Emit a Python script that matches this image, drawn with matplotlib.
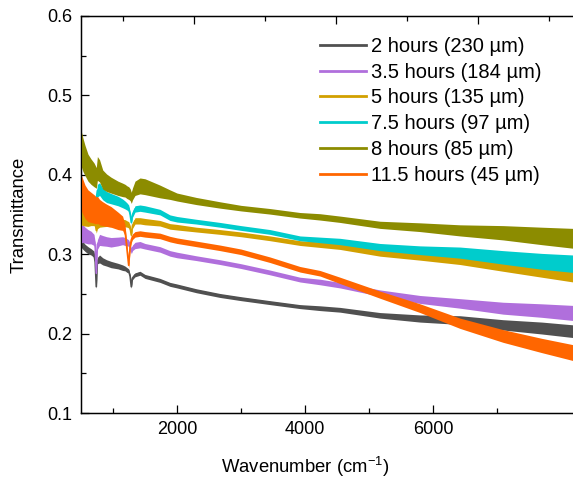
import matplotlib
matplotlib.use("Agg")
import matplotlib.pyplot as plt
from matplotlib.ticker import FixedLocator, MultipleLocator, FormatStrFormatter

plt.rcParams["font.family"] = ["Liberation Sans", "DejaVu Sans"]
plt.rcParams["mathtext.fontset"] = "custom"
plt.rcParams["mathtext.rm"] = "Liberation Sans"
plt.rcParams["mathtext.it"] = "Liberation Sans:italic"

# wavenumber grid shared by all spectra (cm^-1)
wavenumber = [500, 531, 563, 609, 656, 703, 722, 739, 756, 790, 840, 900, 969, 1078,
              1150, 1188, 1220, 1245, 1268, 1286, 1305, 1344, 1422, 1500, 1734, 1890,
              2000, 2300, 2672, 3000, 3453, 3922, 4234, 4547, 5172, 5797, 6422, 7094,
              7700, 8190]

labels = ["2 hours (230 µm)", "3.5 hours (184 µm)", "5 hours (135 µm)",
          "7.5 hours (97 µm)", "8 hours (85 µm)", "11.5 hours (45 µm)"]
colors = ["#505050", "#B06FDC", "#D2A000", "#00CCCC", "#8C8C00", "#FF6600"]

t_2h = [0.314, 0.311, 0.308, 0.305, 0.303, 0.300, 0.290, 0.259, 0.292, 0.294, 0.291,
        0.289, 0.287, 0.285, 0.283, 0.282, 0.280, 0.279, 0.272, 0.259, 0.270, 0.274,
        0.276, 0.272, 0.267, 0.262, 0.260, 0.254, 0.248, 0.244, 0.239, 0.234, 0.232,
        0.230, 0.223, 0.219, 0.217, 0.211, 0.207, 0.203]
t_3h5 = [0.325, 0.326, 0.324, 0.322, 0.321, 0.318, 0.310, 0.276, 0.312, 0.318, 0.317,
         0.316, 0.315, 0.316, 0.317, 0.316, 0.315, 0.314, 0.310, 0.303, 0.308, 0.311,
         0.312, 0.310, 0.306, 0.301, 0.299, 0.295, 0.290, 0.285, 0.277, 0.268, 0.265,
         0.261, 0.251, 0.243, 0.238, 0.232, 0.229, 0.226]
t_5h = [0.352, 0.350, 0.348, 0.345, 0.344, 0.343, 0.340, 0.330, 0.338, 0.341, 0.341,
        0.341, 0.340, 0.340, 0.339, 0.339, 0.338, 0.337, 0.333, 0.324, 0.336, 0.342,
        0.342, 0.341, 0.339, 0.335, 0.334, 0.331, 0.328, 0.325, 0.320, 0.314, 0.312,
        0.310, 0.302, 0.298, 0.294, 0.287, 0.281, 0.276]
t_7h5 = [0.375, 0.372, 0.369, 0.366, 0.363, 0.362, 0.362, 0.370, 0.380, 0.382, 0.376,
         0.372, 0.370, 0.367, 0.364, 0.362, 0.360, 0.358, 0.350, 0.340, 0.350, 0.357,
         0.358, 0.357, 0.353, 0.346, 0.344, 0.341, 0.337, 0.333, 0.328, 0.320, 0.318,
         0.316, 0.309, 0.305, 0.302, 0.296, 0.291, 0.288]
t_8h = [0.434, 0.425, 0.418, 0.409, 0.404, 0.400, 0.398, 0.396, 0.408, 0.405, 0.394,
        0.390, 0.387, 0.383, 0.381, 0.380, 0.378, 0.377, 0.375, 0.371, 0.376, 0.383,
        0.386, 0.385, 0.379, 0.375, 0.372, 0.367, 0.362, 0.358, 0.354, 0.349, 0.347,
        0.344, 0.337, 0.334, 0.330, 0.327, 0.323, 0.320]
t_11h5 = [0.378, 0.372, 0.366, 0.361, 0.359, 0.357, 0.356, 0.355, 0.356, 0.353, 0.351,
          0.349, 0.347, 0.342, 0.339, 0.330, 0.305, 0.286, 0.310, 0.318, 0.322, 0.325,
          0.326, 0.325, 0.323, 0.319, 0.317, 0.313, 0.308, 0.303, 0.293, 0.281, 0.276,
          0.267, 0.249, 0.232, 0.213, 0.197, 0.185, 0.176]

# peak-to-peak noise of each spectrum on the same grid
noise_2h = [0.010, 0.010, 0.009, 0.009, 0.008, 0.008, 0.006, 0.005, 0.008, 0.010, 0.009,
            0.008, 0.008, 0.007, 0.007, 0.006, 0.006, 0.005, 0.004, 0.004, 0.004, 0.005,
            0.005, 0.005, 0.005, 0.005, 0.005, 0.005, 0.005, 0.005, 0.005, 0.005, 0.006,
            0.006, 0.007, 0.009, 0.011, 0.013, 0.015, 0.016]
noise_3h5 = [0.022, 0.022, 0.020, 0.018, 0.016, 0.014, 0.010, 0.005, 0.012, 0.014, 0.013,
             0.012, 0.012, 0.011, 0.010, 0.010, 0.009, 0.008, 0.007, 0.005, 0.007, 0.008,
             0.008, 0.007, 0.007, 0.007, 0.007, 0.006, 0.006, 0.006, 0.006, 0.006, 0.007,
             0.007, 0.008, 0.010, 0.012, 0.015, 0.017, 0.019]
noise_5h = [0.030, 0.028, 0.025, 0.020, 0.016, 0.014, 0.012, 0.007, 0.012, 0.014, 0.013,
            0.012, 0.011, 0.010, 0.010, 0.009, 0.008, 0.008, 0.007, 0.005, 0.007, 0.008,
            0.008, 0.008, 0.007, 0.007, 0.007, 0.006, 0.006, 0.006, 0.006, 0.006, 0.007,
            0.008, 0.009, 0.011, 0.014, 0.017, 0.020, 0.022]
noise_7h5 = [0.020, 0.020, 0.018, 0.016, 0.015, 0.014, 0.012, 0.012, 0.016, 0.016, 0.015,
             0.014, 0.013, 0.012, 0.011, 0.010, 0.009, 0.008, 0.007, 0.005, 0.007, 0.008,
             0.008, 0.008, 0.007, 0.007, 0.007, 0.006, 0.006, 0.006, 0.006, 0.006, 0.007,
             0.008, 0.009, 0.011, 0.014, 0.017, 0.020, 0.022]
noise_8h = [0.045, 0.042, 0.038, 0.034, 0.032, 0.030, 0.028, 0.026, 0.030, 0.028, 0.024,
            0.022, 0.020, 0.018, 0.017, 0.016, 0.016, 0.016, 0.015, 0.014, 0.015, 0.018,
            0.020, 0.020, 0.016, 0.012, 0.010, 0.009, 0.008, 0.007, 0.007, 0.007, 0.008,
            0.008, 0.009, 0.011, 0.014, 0.018, 0.022, 0.025]
noise_11h5 = [0.045, 0.044, 0.042, 0.040, 0.038, 0.036, 0.035, 0.034, 0.034, 0.032, 0.030,
              0.028, 0.026, 0.022, 0.018, 0.014, 0.010, 0.007, 0.007, 0.007, 0.007, 0.007,
              0.007, 0.007, 0.007, 0.007, 0.007, 0.007, 0.007, 0.007, 0.007, 0.007, 0.007,
              0.008, 0.009, 0.011, 0.013, 0.016, 0.018, 0.020]

spectra = [t_2h, t_3h5, t_5h, t_7h5, t_8h, t_11h5]
noises = [noise_2h, noise_3h5, noise_5h, noise_7h5, noise_8h, noise_11h5]

fig = plt.figure(figsize=(5.73, 4.79), dpi=100)
ax = fig.add_axes([81 / 573, 66 / 479, 492 / 573, 397 / 479])

handles = []
for i, (t, nz, c, lab) in enumerate(zip(spectra, noises, colors, labels)):
    lo = [v - n / 2 for v, n in zip(t, nz)]
    hi = [v + n / 2 for v, n in zip(t, nz)]
    ax.fill_between(wavenumber, lo, hi, color=c, lw=0, zorder=2 + i)
    (h,) = ax.plot(wavenumber, t, color=c, lw=1.2, zorder=2 + i, label=lab)
    handles.append(h)

ax.set_xlim(500, 8187)
ax.set_ylim(0.1, 0.6)
ax.xaxis.set_major_locator(FixedLocator([2000, 4000, 6000]))
ax.xaxis.set_minor_locator(FixedLocator([1000, 3000, 5000, 7000]))
ax.yaxis.set_major_locator(MultipleLocator(0.1))
ax.yaxis.set_minor_locator(MultipleLocator(0.05))
ax.yaxis.set_major_formatter(FormatStrFormatter("%.1f"))
ax.tick_params(which="both", direction="in", width=0.9, labelsize=13, pad=6,
               right=False, top=False)
ax.tick_params(which="major", length=5.5)
ax.tick_params(which="minor", length=3.5)
ax.spines["right"].set_visible(False)
for s in ("left", "bottom", "top"):
    ax.spines[s].set_linewidth(1.0)

# unlabeled top scale
top = ax.twiny()
top.set_xlim(404, 7334)
top.xaxis.set_major_locator(MultipleLocator(2000))
top.xaxis.set_minor_locator(MultipleLocator(1000))
top.tick_params(which="both", direction="in", width=0.9, labeltop=False)
top.tick_params(which="major", length=5.5)
top.tick_params(which="minor", length=3.5)
top.spines["right"].set_visible(False)

ax.set_xlabel(r"Wavenumber (cm$^{-1}$)", fontsize=13.3)
ax.xaxis.set_label_coords((305 - 81) / 492, -42 / 397)
ax.set_ylabel("Transmittance", fontsize=13.3)
ax.yaxis.set_label_coords(-53 / 492, 0.5)

leg = ax.legend(handles=handles, loc="upper left", bbox_to_anchor=(320 / 573, 1 - 37 / 479),
                bbox_transform=fig.transFigure, frameon=False, fontsize=14.5,
                handlelength=2.3, handletextpad=0.25, labelspacing=0.335, borderpad=0,
                borderaxespad=0)
for line in leg.get_lines():
    line.set_linewidth(2)

fig.savefig("out.png", dpi=100)
